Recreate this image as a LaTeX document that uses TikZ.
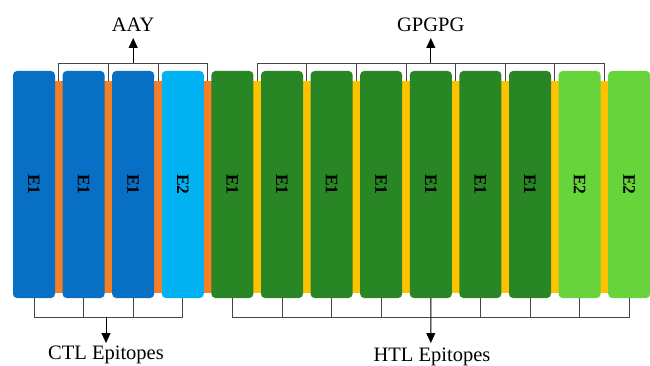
\documentclass[tikz,border=0pt]{standalone}
\usepackage{fontspec}
\setmainfont{Liberation Serif}
\usetikzlibrary{arrows.meta}
\definecolor{cblue}{RGB}{8,112,196}
\definecolor{clblue}{RGB}{0,178,242}
\definecolor{cdgreen}{RGB}{40,134,36}
\definecolor{clgreen}{RGB}{102,212,58}
\definecolor{corange}{RGB}{246,126,36}
\definecolor{cyellow}{RGB}{255,194,0}
\definecolor{cline}{RGB}{70,70,70}
\tikzset{
  blk/.style={rounded corners=4pt, minimum width=42pt, minimum height=227pt, inner sep=0pt,
              font=\fontsize{17.5}{20}\selectfont\bfseries},
  spc/.style={minimum width=9pt, minimum height=212pt, inner sep=0pt},
  brk/.style={draw=cline, line width=0.9pt},
  arr/.style={draw=black, line width=0.9pt, -{Triangle[width=9pt,length=10pt]}},
  lbl/.style={font=\fontsize{20.5}{24}\selectfont, inner sep=0pt, anchor=base}
}
\begin{document}
\begin{tikzpicture}[x=1pt,y=-1pt]
\useasboundingbox (0,0) rectangle (650,366);
% spacers
\foreach \i/\c in {1/corange,2/corange,3/corange,4/corange,5/cyellow,6/cyellow,7/cyellow,8/cyellow,9/cyellow,10/cyellow,11/cyellow,12/cyellow}{
  \node[spc, fill=\c] (s\i) at ({13+49.6*(\i-1)+45.8},187) {};
}
% blocks
\foreach \i/\c/\t in {1/cblue/E1,2/cblue/E1,3/cblue/E1,4/clblue/E2,5/cdgreen/E1,6/cdgreen/E1,7/cdgreen/E1,8/cdgreen/E1,9/cdgreen/E1,10/cdgreen/E1,11/cdgreen/E1,12/clgreen/E2,13/clgreen/E2}{
  \node[blk, fill=\c] (b\i) at ({13+49.6*(\i-1)+21},184.5) {\rotatebox{-90}{\t}};
}
% labels
\node[lbl] (aay) at (133.2,32) {AAY};
\node[lbl] (gp) at (430.8,32) {GPGPG};
\node[lbl] (ctl) at (106,359) {CTL Epitopes};
\node[lbl] (htl) at (432,361) {HTL Epitopes};
% top brackets
\draw[brk] (s1.north) -- (s1.north |- 0,63) -- (s4.north |- 0,63) -- (s4.north);
\foreach \i in {2,3} \draw[brk] (s\i.north) -- (s\i.north |- 0,63);
\draw[arr] (133.2,63) -- (133.2,38);
\draw[brk] (s5.north) -- (s5.north |- 0,63) -- (s12.north |- 0,63) -- (s12.north);
\foreach \i in {6,...,11} \draw[brk] (s\i.north) -- (s\i.north |- 0,63);
\draw[arr] (430.8,63) -- (430.8,38);
% bottom brackets
\draw[brk] (b1.south) -- (b1.south |- 0,317) -- (b4.south |- 0,317) -- (b4.south);
\foreach \i in {2,3} \draw[brk] (b\i.south) -- (b\i.south |- 0,317);
\draw[arr] (106,317) -- (106,343);
\draw[brk] (b5.south) -- (b5.south |- 0,317) -- (b13.south |- 0,317) -- (b13.south);
\foreach \i in {6,7,8,10,11,12} \draw[brk] (b\i.south) -- (b\i.south |- 0,317);
\draw[arr] (b9.south) -- (430.8,343);
\end{tikzpicture}
\end{document}
